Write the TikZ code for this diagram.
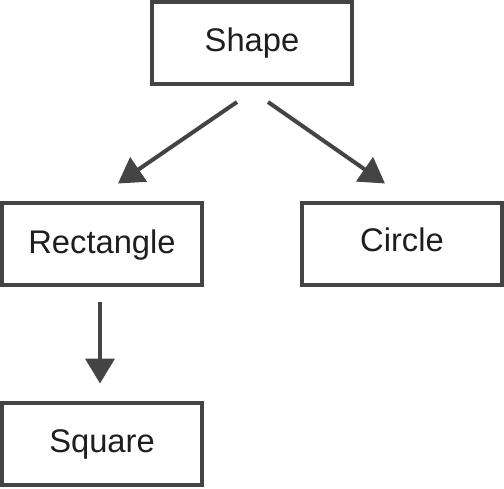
\documentclass[tikz,border=0pt]{standalone}
\usepackage{fontspec}
\setmainfont{Liberation Sans}
\usetikzlibrary{arrows.meta,calc}
\definecolor{linegray}{HTML}{444444}
\definecolor{textgray}{HTML}{1E1E1E}
\tikzset{
  box/.style={draw=linegray, line width=4pt, rectangle, minimum width=200pt, minimum height=82pt, inner sep=0pt, text=textgray, font=\fontsize{32.7}{38}\selectfont, text height=23.4pt, text depth=0pt},
  conn/.style={draw=linegray, line width=4pt, -{Triangle[length=25pt,width=29pt]}}
}
\begin{document}
\begin{tikzpicture}[x=1pt,y=1pt]
\useasboundingbox (0,0) rectangle (504,-488);
\node[box] (shape) at (252,-43) {\raisebox{3pt}{Shape}};
\node[box] (rect) at (102,-243.5) {\raisebox{2pt}{Rectangle}};
\node[box] (circ) at (402,-243.5) {\raisebox{4pt}{Circle}};
\node[box] (sq) at (102,-443.5) {\raisebox{2.5pt}{Square}};
\draw[conn] ($(shape.south)+(-15,-16)$) -- ($(rect.north)+(16,17)$);
\draw[conn] ($(shape.south)+(16,-16)$) -- ($(circ.north)+(-17,17)$);
\draw[conn] ($(rect.south)+(-2,-15)$) -- ($(sq.north)+(-2,17)$);
\end{tikzpicture}
\end{document}
